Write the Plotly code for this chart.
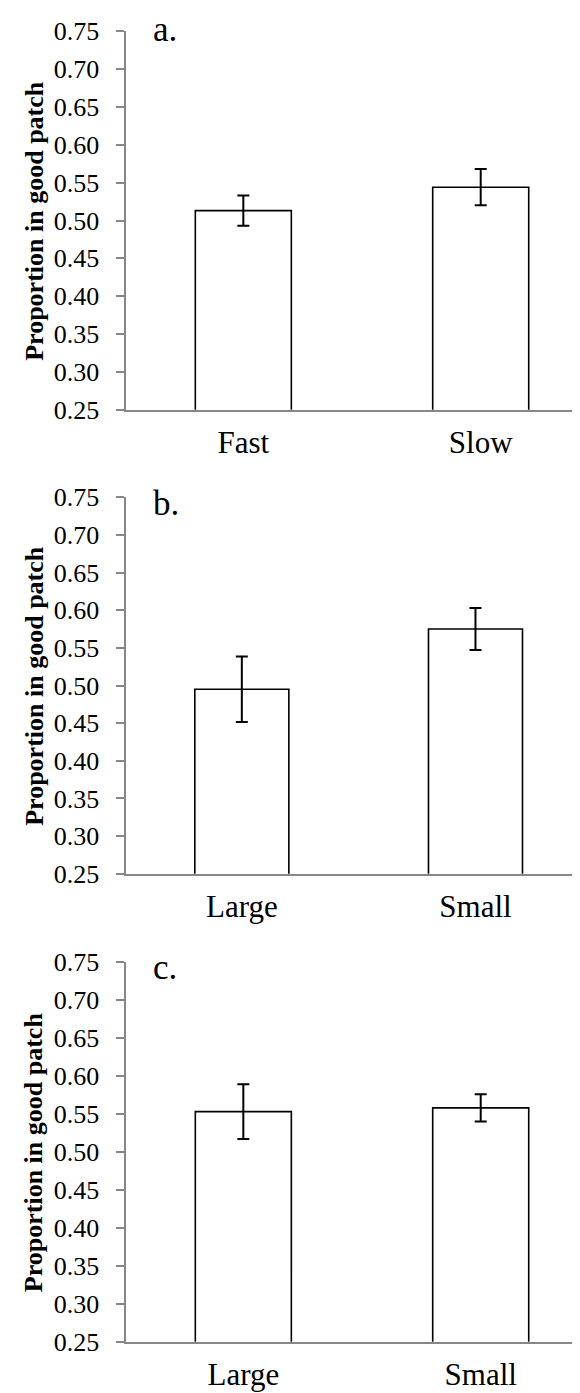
import plotly.graph_objects as go

# ---- data ----
cats_a = ["Fast", "Slow"]
vals_a = [0.513, 0.544]
err_a = [0.020, 0.024]

cats_b = ["Large", "Small"]
vals_b = [0.495, 0.575]
err_b = [0.0435, 0.028]

cats_c = ["Large", "Small"]
vals_c = [0.553, 0.558]
err_c = [0.036, 0.018]

panel_labels = ["a.", "b.", "c."]
y_ticks = [0.25, 0.30, 0.35, 0.40, 0.45, 0.50, 0.55, 0.60, 0.65, 0.70, 0.75]
y_title = "Proportion in good patch"

W, H = 580, 1393
FONT = "Liberation Serif"
AXIS_COLOR = "#878787"
AX_X = 117.5  # pixel x of the y-axis line

# panel geometry in pixels (top of 0.75, bottom of 0.25)
panels = [
    dict(cats=cats_a, vals=vals_a, err=err_a, top=23.3, bot=401.7,
         xr=[-0.4964, 1.452], bw=0.4045, lab_top=0.0),
    dict(cats=cats_b, vals=vals_b, err=err_b, top=489.3, bot=865.7,
         xr=[-0.4979, 1.4816], bw=0.4024, lab_top=473.5),
    dict(cats=cats_c, vals=vals_c, err=err_c, top=954.0, bot=1333.8,
         xr=[-0.4964, 1.452], bw=0.4045, lab_top=938.0),
]

fig = go.Figure()
layout = dict(
    width=W, height=H,
    margin=dict(l=0, r=0, t=0, b=0, pad=0, autoexpand=False),
    paper_bgcolor="white", plot_bgcolor="white",
    showlegend=False,
    font=dict(family=FONT, color="black"),
    annotations=[],
)

for i, p in enumerate(panels):
    n = "" if i == 0 else str(i + 1)
    xa, ya = "x" + n, "y" + n
    fig.add_trace(go.Bar(
        x=list(range(len(p["cats"]))), y=p["vals"],
        width=p["bw"], base=0,
        marker=dict(color="white", line=dict(color="black", width=1.6)),
        error_y=dict(type="data", array=p["err"], visible=True,
                     color="black", thickness=2, width=6),
        xaxis=xa, yaxis=ya,
    ))
    y0 = 1 - p["bot"] / H
    y1 = 1 - p["top"] / H
    layout["xaxis" + n] = dict(
        domain=[AX_X / W, 1.0], anchor=ya, range=p["xr"], automargin=False,
        tickmode="array", tickvals=list(range(len(p["cats"]))), ticktext=p["cats"],
        showline=True, linecolor=AXIS_COLOR, linewidth=2,
        ticks="", showgrid=False, zeroline=False,
        tickfont=dict(family=FONT, size=31, color="black"),
        ticklabelstandoff=4,
    )
    layout["yaxis" + n] = dict(
        domain=[y0, y1], anchor=xa, range=[0.25, 0.75], automargin=False,
        tickmode="array", tickvals=y_ticks, ticktext=[f"{v:.2f}" for v in y_ticks],
        showline=True, linecolor=AXIS_COLOR, linewidth=2,
        ticks="outside", ticklen=8, tickcolor=AXIS_COLOR, tickwidth=1.5,
        showgrid=False, zeroline=False,
        tickfont=dict(family=FONT, size=26, color="black"),
        ticklabelstandoff=11,
    )
    # y-axis title
    layout["annotations"].append(dict(
        text="<b>" + y_title + "</b>", textangle=-90,
        x=26.3 / W, y=1 - ((p["top"] + p["bot"]) / 2) / H,
        xref="paper", yref="paper", xanchor="center", yanchor="middle",
        showarrow=False, font=dict(family=FONT, size=26, color="black"),
    ))
    # panel label
    layout["annotations"].append(dict(
        text=panel_labels[i],
        x=143 / W, y=1 - p["lab_top"] / H,
        xref="paper", yref="paper", xanchor="left", yanchor="top",
        showarrow=False, font=dict(family=FONT, size=35, color="black"),
    ))

fig.update_layout(**layout)
fig.write_html("out.html")
